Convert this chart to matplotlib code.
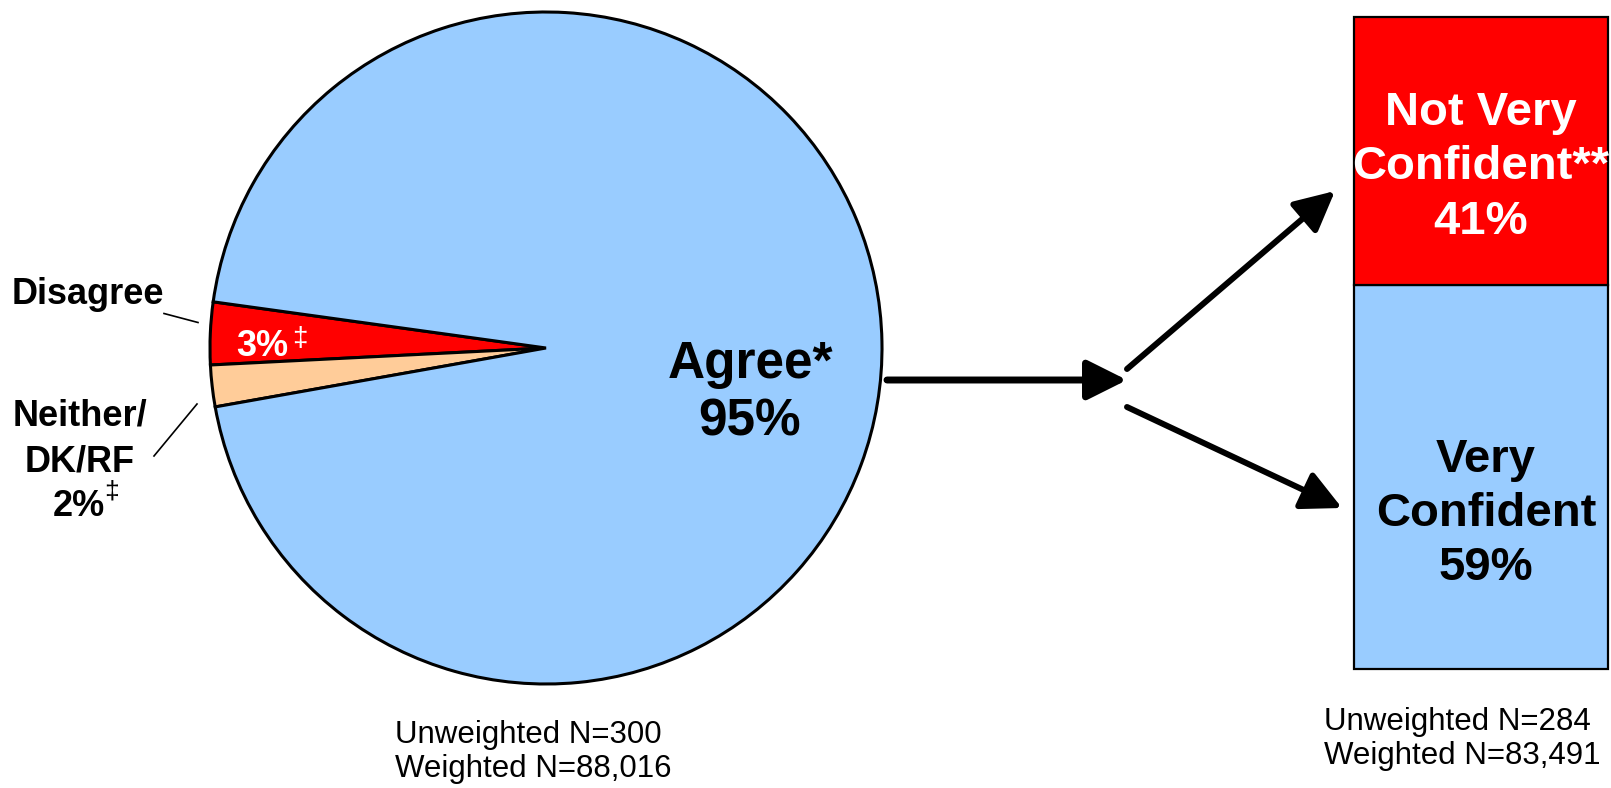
import matplotlib
matplotlib.use("Agg")
import matplotlib.pyplot as plt

plt.rcParams['font.family'] = ['Liberation Sans', 'DejaVu Sans']

# ---- data ----
pie_labels = ["Disagree", "Neither/DK/RF", "Agree"]
pie_values = [3, 2, 95]
pie_colors = ["#FF0000", "#FFCC99", "#99CCFF"]

bar_labels = ["Very\nConfident", "Not Very\nConfident**"]
bar_values = [59, 41]
bar_colors = ["#99CCFF", "#FF0000"]

pie_n_text = "Unweighted N=300\nWeighted N=88,016"
bar_n_text = "Unweighted N=284\nWeighted N=83,491"

W, H = 1611, 788
fig = plt.figure(figsize=(W / 100, H / 100), dpi=100)
ax = fig.add_axes([0, 0, 1, 1])


def Y(py):
    return H - py


# pie
ax.pie(pie_values, colors=pie_colors, startangle=172.1, counterclock=True,
       center=(546, Y(348)), radius=336, frame=True,
       wedgeprops=dict(edgecolor="black", linewidth=2.2))
ax.set_xlim(0, W)
ax.set_ylim(0, H)
ax.set_aspect('equal')
ax.axis('off')

# pie labels
ax.text(750, Y(393), f"{pie_labels[2]}*\n{pie_values[2]}%", ha='center', va='center',
        fontsize=37, fontweight='bold', linespacing=1.22)
ax.text(12, Y(294), pie_labels[0], ha='left', va='center', fontsize=26, fontweight='bold')
ax.plot([164, 198], [Y(313.5), Y(322.5)], color='black', lw=1.2)
ax.text(236, Y(346), f"{pie_values[0]}%", ha='left', va='center', fontsize=26,
        fontweight='bold', color='white')
ax.text(292, Y(339), "‡", ha='left', va='center', fontsize=20, color='white')
ax.text(80, Y(439), "Neither/\nDK/RF", ha='center', va='center', fontsize=26,
        fontweight='bold', linespacing=1.38)
ax.text(53, Y(507), f"{pie_values[1]}%", ha='left', va='center', fontsize=26, fontweight='bold')
ax.text(104, Y(491), "‡", ha='left', va='center', fontsize=19)
ax.plot([154, 197], [Y(456), Y(404)], color='black', lw=1.2)

ax.text(395, Y(752), pie_n_text, ha='left', va='center', fontsize=22.5, linespacing=1.2)
ax.text(1324, Y(739), bar_n_text, ha='left', va='center', fontsize=22.5, linespacing=1.2)

# arrows
astyle = dict(arrowstyle='-|>,head_length=0.9,head_width=0.45', mutation_scale=27,
              color='black', shrinkA=0, shrinkB=0)
ax.annotate('', xy=(1127, Y(380)), xytext=(887, Y(380)),
            arrowprops=dict(lw=5, **astyle))
ax.annotate('', xy=(1335, Y(191)), xytext=(1127, Y(369)),
            arrowprops=dict(lw=4.3, **astyle))
ax.annotate('', xy=(1342, Y(508)), xytext=(1127, Y(407)),
            arrowprops=dict(lw=4.3, **astyle))

# stacked bar
bx0, bx1, by0, by1 = 1354, 1608, 17.5, 669
ax2 = fig.add_axes([bx0 / W, (H - by1) / H, (bx1 - bx0) / W, (by1 - by0) / H])
bottom = 0
for v, c in zip(bar_values, bar_colors):
    ax2.bar(0, v, bottom=bottom, width=1, color=c, edgecolor='black', linewidth=1.6,
            clip_on=False)
    bottom += v
ax2.set_xlim(-0.5, 0.5)
ax2.set_ylim(0, sum(bar_values))
ax2.axis('off')

ax2.text(0.02, bar_values[0] / 2 - 5.7, f"{bar_labels[0]}\n{bar_values[0]}%", ha='center',
         va='center', fontsize=34, fontweight='bold', linespacing=1.3)
ax2.text(0.0, bar_values[0] + bar_values[1] / 2 - 2.5, f"{bar_labels[1]}\n{bar_values[1]}%",
         ha='center', va='center', fontsize=34, fontweight='bold', color='white',
         linespacing=1.3)

fig.savefig("out.png", dpi=100)
